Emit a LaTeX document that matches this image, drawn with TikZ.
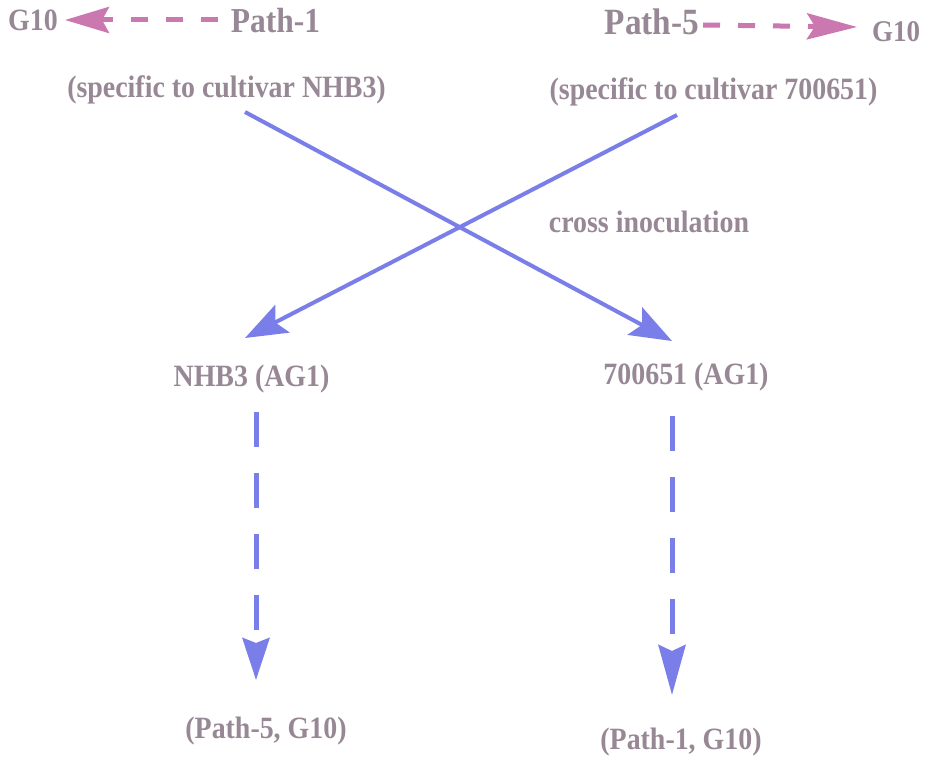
\documentclass[tikz,border=0pt]{standalone}
\usepackage{fontspec}
\setmainfont{Liberation Serif}
\newfontfamily\cfont{Liberation Serif}[FakeStretch=0.9]
\usetikzlibrary{arrows.meta}
\definecolor{txtc}{RGB}{152,136,150}
\definecolor{pinkc}{RGB}{204,120,176}
\definecolor{bluec}{RGB}{122,126,232}
\tikzset{
  lbl/.style={anchor=base, inner sep=0pt, text=txtc, font=\cfont\bfseries\fontsize{31}{33}\selectfont},
  biglbl/.style={lbl, font=\cfont\bfseries\fontsize{35}{37}\selectfont},
  pinkarrow/.style={draw=pinkc, line width=5pt, dash pattern=on 17pt off 18pt},
  crossarrow/.style={draw=bluec, line width=4pt, -{Stealth[length=42pt,width=31pt,inset=8pt]}},
  downarrow/.style={draw=bluec, line width=5pt, dash pattern=on 35pt off 26pt}
}
\begin{document}
\begin{tikzpicture}[x=1pt,y=-1pt]
\useasboundingbox[fill=white] (0,0) rectangle (927,757);
% top labels
\node[lbl] (g10L) at (33,31) {G10};
\node[biglbl] (p1) at (275.5,33) {Path-1};
\node[biglbl, font=\cfont\bfseries\fontsize{37}{39}\selectfont] (p5) at (652,35) {Path-5};
\node[lbl, font=\cfont\bfseries\fontsize{30}{32}\selectfont] (g10R) at (896,42) {G10};
\node[lbl] (specN) at (226.5,98) {(specific to cultivar NHB3)};
\node[lbl] (specR) at (713.5,100) {(specific to cultivar 700651)};
\node[lbl] (cross) at (649,233) {cross inoculation};
\node[lbl] (aN) at (251.5,386) {NHB3 (AG1)};
\node[lbl] (a7) at (686,384) {700651 (AG1)};
\node[lbl] (bl) at (266,738) {(Path-5, G10)};
\node[lbl] (br) at (681,749) {(Path-1, G10)};
% pink dashed arrows
\draw[pinkarrow, -{Stealth[length=44pt,width=26pt,inset=7pt]}]
  ([shift={(-57.5,-13)}]p1.base) -- ([shift={(32,-11)}]g10L.base);
\draw[pinkarrow, -{Stealth[length=50pt,width=26pt,inset=8pt]}]
  ([shift={(51,-10)}]p5.base) -- ([shift={(-39,-15)}]g10R.base);
% cross inoculation arrows
\draw[crossarrow] ([shift={(18.5,14)}]specN.base) -- ([shift={(-14,-43)}]a7.base);
\draw[crossarrow] ([shift={(-36.5,15)}]specR.base) -- ([shift={(-6.5,-48)}]aN.base);
% vertical dashed arrows
\draw[downarrow, -{Stealth[length=42pt,width=27pt,inset=5pt]}]
  ([shift={(4.5,26)}]aN.base) -- ([shift={(-10,-58)}]bl.base);
\draw[downarrow, -{Stealth[length=50pt,width=27pt,inset=6pt]}]
  ([shift={(-14,32)}]a7.base) -- ([shift={(-9,-54)}]br.base);
\end{tikzpicture}
\end{document}
